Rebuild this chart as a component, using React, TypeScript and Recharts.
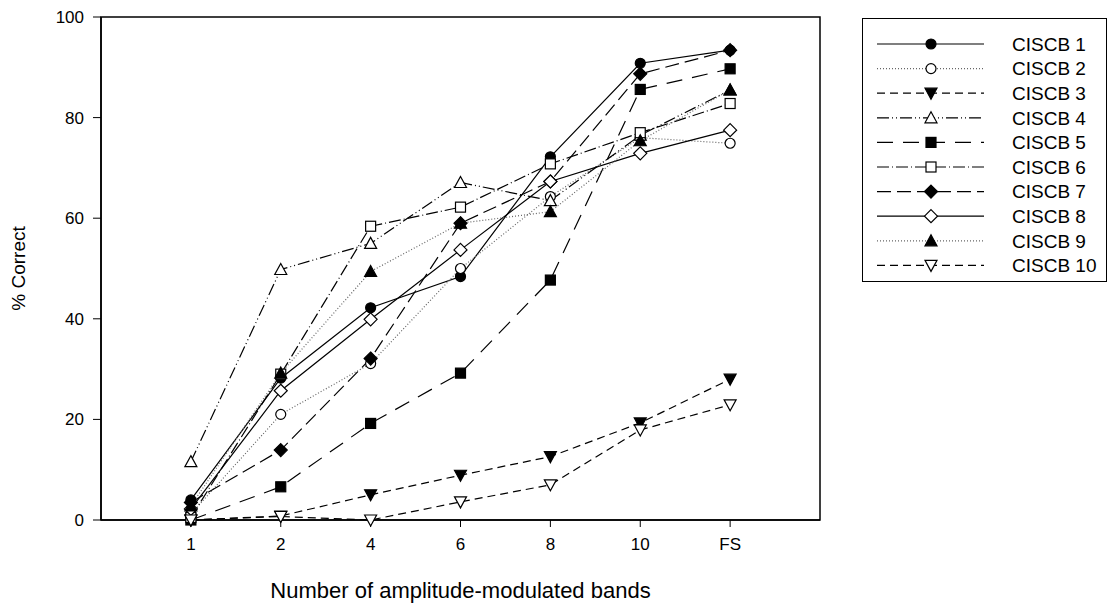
import { LineChart, Line, XAxis, YAxis, ReferenceArea } from "recharts";

const bandLabels = ["1", "2", "4", "6", "8", "10", "FS"];
const yTicks = [0, 20, 40, 60, 80, 100];

const ciscb1 = [4.0, 28.2, 42.2, 48.4, 72.2, 90.8, 93.4];
const ciscb2 = [1.2, 21.0, 31.1, 50.0, 64.3, 76.0, 74.9];
const ciscb3 = [0, 0.8, 5.0, 8.9, 12.6, 19.3, 28.0];
const ciscb4 = [11.6, 49.8, 55.0, 67.1, 63.5, 76.5, 85.5];
const ciscb5 = [0, 6.6, 19.2, 29.2, 47.7, 85.6, 89.7];
const ciscb6 = [0.5, 29.0, 58.4, 62.2, 70.8, 77.0, 82.8];
const ciscb7 = [3.5, 13.9, 32.1, 59.0, 67.3, 88.7, 93.4];
const ciscb8 = [2.2, 25.7, 39.9, 53.7, 67.3, 72.9, 77.5];
const ciscb9 = [2.8, 29.2, 49.4, 59.0, 61.3, 75.4, 85.5];
const ciscb10 = [0, 0.7, 0, 3.6, 7.0, 17.9, 22.9];

type Shape = "circle" | "triDown" | "triUp" | "square" | "diamond";

const series = [
  { key: "s1", name: "CISCB 1", values: ciscb1, shape: "circle", filled: true, dash: undefined, color: "#000" },
  { key: "s2", name: "CISCB 2", values: ciscb2, shape: "circle", filled: false, dash: "1 2", color: "#666" },
  { key: "s3", name: "CISCB 3", values: ciscb3, shape: "triDown", filled: true, dash: "8 5", color: "#000" },
  { key: "s4", name: "CISCB 4", values: ciscb4, shape: "triUp", filled: false, dash: "12 3 1 3 1 3", color: "#000" },
  { key: "s5", name: "CISCB 5", values: ciscb5, shape: "square", filled: true, dash: "16 10", color: "#000" },
  { key: "s6", name: "CISCB 6", values: ciscb6, shape: "square", filled: false, dash: "12 3 1 3", color: "#000" },
  { key: "s7", name: "CISCB 7", values: ciscb7, shape: "diamond", filled: true, dash: "14 6", color: "#000" },
  { key: "s8", name: "CISCB 8", values: ciscb8, shape: "diamond", filled: false, dash: undefined, color: "#000" },
  { key: "s9", name: "CISCB 9", values: ciscb9, shape: "triUp", filled: true, dash: "1 2", color: "#666" },
  { key: "s10", name: "CISCB 10", values: ciscb10, shape: "triDown", filled: false, dash: "8 5", color: "#000" },
] as { key: string; name: string; values: number[]; shape: Shape; filled: boolean; dash?: string; color: string }[];

const data = bandLabels.map((label, i) => {
  const row: Record<string, number | string> = { pos: i + 1, label };
  series.forEach((s) => {
    row[s.key] = s.values[i];
  });
  return row;
});

const font = "'Liberation Sans', Arial, sans-serif";

function Marker({ cx, cy, shape, filled }: { cx: number; cy: number; shape: Shape; filled: boolean }) {
  const fill = filled ? "#000" : "#fff";
  const common = { fill, stroke: "#000", strokeWidth: 1.2 };
  if (shape === "circle") return <circle cx={cx} cy={cy} r={5} {...common} />;
  if (shape === "square") return <rect x={cx - 5} y={cy - 5} width={10} height={10} {...common} />;
  if (shape === "diamond")
    return <polygon points={`${cx},${cy - 6.5} ${cx + 6.5},${cy} ${cx},${cy + 6.5} ${cx - 6.5},${cy}`} {...common} />;
  if (shape === "triUp")
    return <polygon points={`${cx},${cy - 6} ${cx + 6},${cy + 5} ${cx - 6},${cy + 5}`} {...common} />;
  return <polygon points={`${cx - 6},${cy - 5} ${cx + 6},${cy - 5} ${cx},${cy + 6}`} {...common} />;
}

const Legend = () => (
  <div
    style={{
      position: "absolute",
      left: 862,
      top: 18,
      width: 245,
      height: 264,
      border: "1px solid #000",
      boxSizing: "border-box",
      background: "#fff",
    }}
  >
    <svg width={243} height={262}>
      {series.map((s, i) => {
        const y = 25 + i * 24.6;
        return (
          <g key={s.key}>
            <line x1={14} x2={121} y1={y} y2={y} stroke={s.color} strokeWidth={1.2} strokeDasharray={s.dash} />
            <Marker cx={68} cy={y} shape={s.shape} filled={s.filled} />
            <text x={149} y={y} dy="0.36em" fontSize={19} fontFamily={font} fill="#000">
              {s.name}
            </text>
          </g>
        );
      })}
    </svg>
  </div>
);

export default function App() {
  return (
    <div style={{ position: "absolute", left: 0, top: 0, width: 1115, height: 605, background: "#fff" }}>
      <LineChart width={1115} height={605} data={data} margin={{ top: 17, right: 295, bottom: 7, left: 11 }}>
        <ReferenceArea x1={0} x2={8} y1={0} y2={100} fill="none" stroke="#000" strokeWidth={1.5} ifOverflow="visible" />
        <XAxis
          dataKey="pos"
          type="number"
          domain={[0, 8]}
          ticks={[1, 2, 3, 4, 5, 6, 7]}
          tickFormatter={(v: number) => bandLabels[v - 1] ?? ""}
          axisLine={{ stroke: "#000", strokeWidth: 1.5 }}
          tickLine={{ stroke: "#000" }}
          tickSize={7}
          tickMargin={11}
          height={78}
          tick={{ fontSize: 17, fill: "#000", fontFamily: font }}
          label={{ value: "Number of amplitude-modulated bands", position: "insideBottom", offset: 0, fontSize: 22, fill: "#000", fontFamily: font }}
        />
        <YAxis
          type="number"
          domain={[0, 100]}
          ticks={yTicks}
          width={90}
          axisLine={{ stroke: "#000", strokeWidth: 1.5 }}
          tickLine={{ stroke: "#000" }}
          tickSize={8}
          tickMargin={9}
          tick={{ fontSize: 17, fill: "#000", fontFamily: font }}
          label={{ value: "% Correct", angle: -90, position: "insideLeft", offset: 7, fontSize: 19, fill: "#000", fontFamily: font, style: { textAnchor: "middle" } }}
        />
        {series.map((s) => (
          <Line
            key={s.key}
            dataKey={s.key}
            name={s.name}
            stroke={s.color}
            strokeWidth={1.2}
            strokeDasharray={s.dash}
            isAnimationActive={false}
            dot={(p: any) => <Marker key={`${s.key}-${p.index}`} cx={p.cx} cy={p.cy} shape={s.shape} filled={s.filled} />}
            activeDot={false}
          />
        ))}
      </LineChart>
      <Legend />
    </div>
  );
}
